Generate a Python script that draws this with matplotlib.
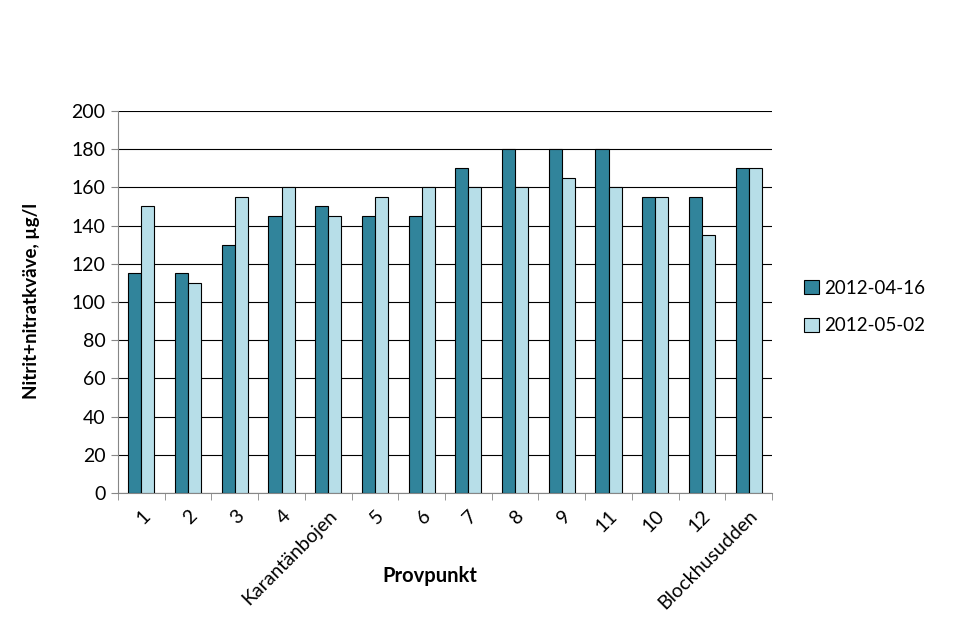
import numpy as np
import matplotlib.pyplot as plt
from matplotlib.patches import Patch

plt.rcParams["font.family"] = ["Lato", "DejaVu Sans"]

categories = ["1", "2", "3", "4", "Karantänbojen", "5", "6", "7", "8", "9",
              "11", "10", "12", "Blockhusudden"]
series_labels = ["2012-04-16", "2012-05-02"]
values_0416 = [115, 115, 130, 145, 150, 145, 145, 170, 180, 180, 180, 155, 155, 170]
values_0502 = [150, 110, 155, 160, 145, 155, 160, 160, 160, 165, 160, 155, 135, 170]

DARK = "#31849B"
LIGHT = "#B7DEE8"


def main():
    fig = plt.figure(figsize=(9.62, 6.2), dpi=100)
    ax = fig.add_axes([0.1227, 0.2048, 0.6798, 0.6162])

    x = np.arange(len(categories))
    w = 0.28
    ax.bar(x - w / 2, values_0416, width=w, color=DARK, edgecolor="black",
           linewidth=0.8, zorder=3)
    ax.bar(x + w / 2, values_0502, width=w, color=LIGHT, edgecolor="black",
           linewidth=0.8, zorder=3)

    ax.set_xlim(-0.5, len(categories) - 0.5)
    ax.set_ylim(0, 200)
    ax.set_yticks(np.arange(0, 201, 20))
    ax.yaxis.grid(True, color="black", linewidth=0.8, zorder=1)
    ax.set_axisbelow(True)

    # category labels at centers, tick marks at boundaries (Excel style)
    ax.set_xticks(x)
    ax.set_xticklabels(categories, rotation=45, ha="right", rotation_mode="anchor",
                       fontsize=14)
    ax.tick_params(axis="x", length=0, pad=10)
    ax.set_xticks(np.arange(-0.5, len(categories), 1.0), minor=True)
    ax.tick_params(axis="x", which="minor", length=5, color="#868686", direction="out")
    ax.tick_params(axis="y", labelsize=14, length=5, color="#868686", pad=4)

    for side in ["top", "right"]:
        ax.spines[side].set_visible(False)
    for side in ["left", "bottom"]:
        ax.spines[side].set_color("#868686")

    fig.text(430 / 962, 1 - 576 / 620, "Provpunkt", fontsize=14.5,
             fontweight="bold", ha="center", va="center")
    fig.text(32 / 962, 1 - 301 / 620, "Nitrit+nitratkväve, µg/l", fontsize=13.5,
             fontweight="bold", rotation=90, ha="center", va="center")

    handles = [Patch(facecolor=DARK, edgecolor="black", linewidth=0.8),
               Patch(facecolor=LIGHT, edgecolor="black", linewidth=0.8)]
    fig.legend(handles, series_labels, loc="center left",
               bbox_to_anchor=(0.818, 0.505), frameon=False, fontsize=13.5,
               handlelength=0.8, handleheight=0.8, handletextpad=0.3,
               labelspacing=1.1)

    fig.savefig("out.png", dpi=100)
    plt.close(fig)


if __name__ == "__main__":
    main()
